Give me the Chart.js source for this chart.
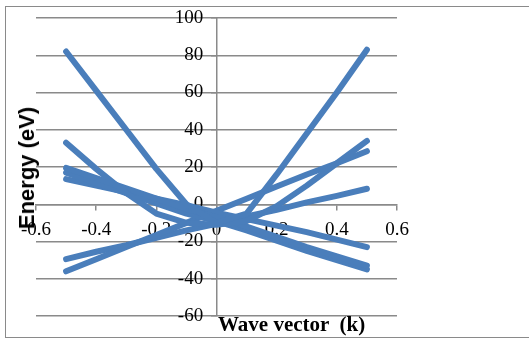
<!DOCTYPE html>
<html>
<head>
<meta charset="utf-8">
<script src="https://cdn.jsdelivr.net/npm/chart.js@4/dist/chart.umd.min.js"></script>
<style>
  body { margin: 0; background: #fff; }
  #wrap { position: relative; width: 529px; height: 339px; }
  #ytitle {
    position: absolute; left: 27px; top: 168px;
    transform: translate(-50%, -50%) rotate(-90deg);
    font: bold 22px "Liberation Sans", Arial, sans-serif; white-space: nowrap; color: #000;
  }
  #xtitle {
    position: absolute; left: 218px; top: 312px;
    font: bold 21px "Liberation Serif", "Times New Roman", serif; white-space: pre; color: #000;
  }
</style>
</head>
<body>
<div id="wrap">
  <canvas id="myChart" width="529" height="339"></canvas>
  <div id="ytitle">Energy (eV)</div>
  <div id="xtitle">Wave vector  (k)</div>
</div>
<script>
// valores de k (eje x)
var kValues = [-0.5, -0.4, -0.3, -0.2, -0.1, 0, 0.1, 0.2, 0.3, 0.4, 0.5];
// bandas
var bandaV = [82, 61, 40, 19, 0, -10, -5, 16, 38, 60, 83];
var bandaU = [33, 19, 6, -5, -10, -11, -9, -1, 10, 22, 34];
var banda1 = [19.5, 14, 8.5, 3, -2.5, -7, -12, -17.5, -23, -28, -33];
var banda2 = [17, 11.5, 6, 0.5, -5, -9, -14, -19.5, -25, -30, -35];
var banda3 = [13.5, 10, 6.5, 3, -0.5, -4.5, -8, -11.5, -15, -19, -23];
var banda4 = [-36, -29.5, -23, -16.5, -10, -3.5, 3, 9.5, 16, 22, 28.5];
var banda5 = [-29.5, -25.5, -22, -18, -14, -10.5, -6.5, -3, 1, 4.5, 8.3];
var bandas = [bandaV, bandaU, banda1, banda2, banda3, banda4, banda5];

var xTicks = [-0.6, -0.4, -0.2, 0, 0.2, 0.4, 0.6];
var xTickLabels = ["-0.6", "-0.4", "-0.2", "0", "0.2", "0.4", "0.6"];
var yTicks = [-60, -40, -20, 0, 20, 40, 60, 80, 100];
var yTickLabels = ["-60", "-40", "-20", "0", "20", "40", "60", "80", "100"];

var azul = "#4a7ebb";
var gris = "#8a8a8a";

//armamos los datasets con los arrays
var datasets = bandas.map(function (b) {
  return {
    data: b.map(function (v, i) { return { x: kValues[i], y: v }; }),
    borderColor: azul,
    backgroundColor: azul,
    borderWidth: 6,
    borderCapStyle: "round",
    borderJoinStyle: "round",
    pointRadius: 0,
    tension: 0,
  };
});

//fondo blanco y marco del grafico
var marco = {
  id: "marco",
  beforeDraw: function (chart) {
    var ctx = chart.ctx;
    ctx.save();
    ctx.fillStyle = "#fff";
    ctx.fillRect(0, 0, chart.width, chart.height);
    ctx.strokeStyle = gris;
    ctx.lineWidth = 1;
    ctx.strokeRect(5.5, 6.5, 540, 331);
    ctx.restore();
  },
};

var fuenteTicks = { family: "'Liberation Serif', 'Times New Roman', serif", size: 19 };

var myChart = new Chart(document.getElementById("myChart").getContext("2d"), {
  type: "line",
  data: { datasets: datasets },
  plugins: [marco],
  options: {
    responsive: false,
    animation: false,
    layout: { padding: { left: 36, right: 132, top: 18, bottom: 23 } },
    plugins: { legend: { display: false }, tooltip: { enabled: false } },
    scales: {
      x: {
        type: "linear",
        min: -0.6,
        max: 0.6,
        position: { y: 0 },
        afterFit: function (s) { s.height = 0; },
        afterBuildTicks: function (s) {
          s.ticks = xTicks.map(function (v) { return { value: v }; });
        },
        ticks: {
          color: "#000",
          font: fuenteTicks,
          padding: 9,
          maxRotation: 0,
          autoSkip: false,
          callback: function (v, i) { return xTickLabels[i]; },
        },
        grid: { drawOnChartArea: false, color: gris, lineWidth: 1.5, tickLength: 5 },
        border: { color: gris, width: 1.5 },
      },
      y: {
        min: -60,
        max: 100,
        position: { x: 0 },
        afterFit: function (s) { s.width = 0; },
        afterBuildTicks: function (s) {
          s.ticks = yTicks.map(function (v) { return { value: v }; });
        },
        ticks: {
          color: "#000",
          font: fuenteTicks,
          padding: 0,
          autoSkip: false,
          // el eje centrado no usa padding, se separa con espacios
          callback: function (v, i) { return yTickLabels[i] + "\u2002\u2009"; },
        },
        grid: { color: gris, lineWidth: 1.5, tickLength: 5 },
        border: { color: gris, width: 1.5 },
      },
    },
  },
});
</script>
</body>
</html>
